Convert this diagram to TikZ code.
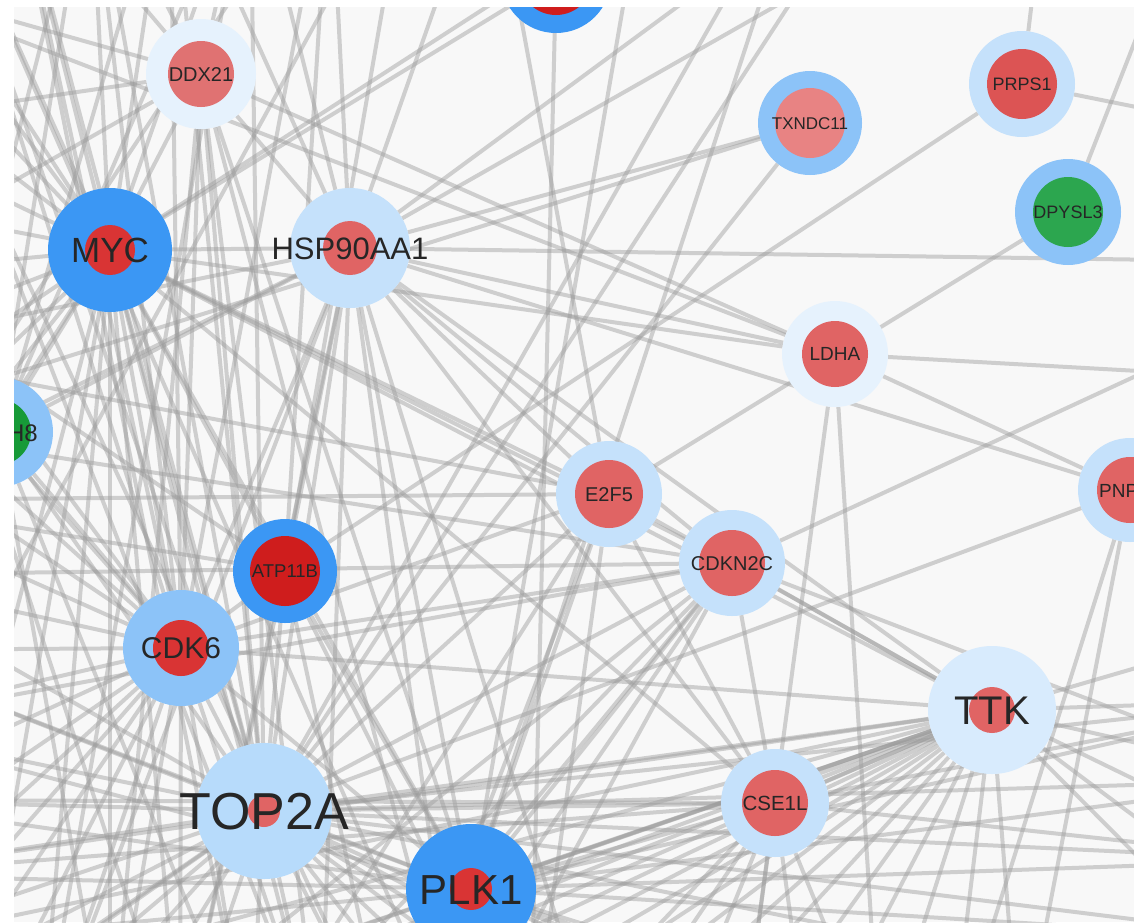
\documentclass[tikz,border=0pt]{standalone}
\usepackage{fontspec}
\newfontfamily\genefont{Liberation Sans}
\pgfdeclarelayer{bg}
\pgfdeclarelayer{edges}
\pgfsetlayers{bg,edges,main}

\definecolor{canvas}{HTML}{F8F8F8}
\definecolor{edgegray}{HTML}{9C9C9C}
\definecolor{labelcol}{HTML}{262626}
\definecolor{ringA}{HTML}{3B97F4}
\definecolor{ringB}{HTML}{8CC3F8}
\definecolor{ringC}{HTML}{C5E1FB}
\definecolor{ringT}{HTML}{B7DBFB}
\definecolor{ringD}{HTML}{E6F2FD}
\definecolor{ringE}{HTML}{D8EBFD}
\definecolor{coreA}{HTML}{D93434}
\definecolor{coreD}{HTML}{CF1D1D}
\definecolor{coreB}{HTML}{E06464}
\definecolor{coreP}{HTML}{E88383}
\definecolor{coreR}{HTML}{DC5454}
\definecolor{coreL}{HTML}{E07272}
\definecolor{coreG}{HTML}{2CA64F}
\definecolor{coreH}{HTML}{179A38}

\tikzset{
  edge/.style={draw=edgegray, line width=4pt, opacity=0.45},
  ring/.style={circle, inner sep=0pt, outer sep=0pt},
  lbl/.style={text=labelcol, inner sep=0pt, anchor=base},
}

% name, x, y, ring radius, ring colour, core radius, core colour, font size, label
\newcommand\gene[9]{%
  \node[ring, fill=#5, minimum size={2*#4pt}] (#1) at (#2,#3) {};
  \fill[#7] (#1.center) circle[radius=#6pt];
  \node[lbl, font={\genefont\fontsize{#8}{#8}\selectfont}] at (#2,{#3+0.36*#8}) {#9};
}

\begin{document}
\begin{tikzpicture}[x=1pt,y=-1pt]
\useasboundingbox (0,0) rectangle (1134,922);
\begin{pgfonlayer}{bg}
  \fill[white] (0,0) rectangle (1134,922);
  \fill[canvas] (14,7) rectangle (1134,922);
\end{pgfonlayer}

% partner genes lying outside the frame
\foreach \i in {0,...,20} \coordinate (b\i) at ({-100+70*\i},1060);
\foreach \i in {0,...,16} \coordinate (l\i) at (-150,{-100+75*\i});
\foreach \i in {0,...,18} \coordinate (t\i) at ({-150+80*\i},-150);
\foreach \i in {0,...,15} \coordinate (r\i) at (1300,{-100+80*\i});
\coordinate (hR) at (1300,262);

% genes
\begin{scope}
  \clip (14,7) rectangle (1134,922);
  \gene{topnode}{556}{-22}{55}{ringA}{37}{coreD}{20}{}
  \gene{DDX21}{201}{74}{55}{ringD}{33}{coreL}{20}{DDX21}
  \gene{MYC}{110}{250}{62}{ringA}{25}{coreA}{35}{MYC}
  \gene{HSP90AA1}{350}{248}{60}{ringC}{27}{coreB}{31}{HSP90AA1}
  \gene{TXNDC11}{810}{123}{52}{ringB}{35}{coreP}{17}{TXNDC11}
  \gene{PRPS1}{1022}{84}{53}{ringC}{35}{coreR}{18}{PRPS1}
  \gene{DPYSL3}{1068}{212}{53}{ringB}{35}{coreG}{18}{DPYSL3}
  \gene{LDHA}{835}{354}{53}{ringD}{33}{coreB}{19}{LDHA}
  \gene{H8node}{-2}{432}{55}{ringB}{33}{coreH}{24}{}
  \node[lbl, anchor=base east, font={\genefont\fontsize{24}{24}\selectfont}] at (38,441) {H8};
  \gene{E2F5}{609}{494}{53}{ringC}{34}{coreB}{20}{E2F5}
  \gene{CDKN2C}{732}{563}{53}{ringC}{33}{coreB}{20}{CDKN2C}
  \gene{PNP}{1130}{490}{52}{ringC}{33}{coreB}{19}{}
  \node[lbl, anchor=base west, font={\genefont\fontsize{19}{19}\selectfont}] at (1099,497) {PNP};
  \gene{ATP11B}{285}{571}{52}{ringA}{35}{coreD}{18.5}{ATP11B}
  \gene{CDK6}{181}{648}{58}{ringB}{28}{coreA}{30}{CDK6}
  \gene{TOP2A}{264}{811}{68}{ringT}{16}{coreB}{52}{TOP2A}
  \gene{PLK1}{471}{889}{65}{ringA}{21}{coreA}{42}{PLK1}
  \gene{CSE1L}{775}{803}{54}{ringC}{33}{coreB}{20.5}{CSE1L}
  \gene{TTK}{992}{710}{64}{ringE}{23}{coreB}{40}{TTK}
\end{scope}

% interactions
\begin{pgfonlayer}{edges}
\begin{scope}
  \clip (14,7) rectangle (1134,922);
  \foreach \a/\b in {
    MYC/DDX21, MYC/HSP90AA1, MYC/CDK6, MYC/TOP2A, MYC/PLK1, MYC/ATP11B,
    MYC/E2F5, MYC/CDKN2C, MYC/LDHA, MYC/TTK, MYC/CSE1L, MYC/H8node, MYC/topnode,
    HSP90AA1/DDX21, HSP90AA1/TXNDC11, HSP90AA1/LDHA, HSP90AA1/PNP, HSP90AA1/CDK6,
    HSP90AA1/TOP2A, HSP90AA1/PLK1, HSP90AA1/TTK, HSP90AA1/CSE1L, HSP90AA1/E2F5,
    HSP90AA1/CDKN2C, HSP90AA1/ATP11B, HSP90AA1/H8node,
    DDX21/LDHA, DDX21/CDK6, DDX21/TOP2A, DDX21/PLK1,
    TOP2A/PLK1, TOP2A/TTK, TOP2A/CSE1L, TOP2A/CDK6, TOP2A/E2F5, TOP2A/CDKN2C,
    TOP2A/ATP11B, TOP2A/PNP, TOP2A/TXNDC11, TOP2A/H8node,
    PLK1/TTK, PLK1/CSE1L, PLK1/CDK6, PLK1/E2F5, PLK1/CDKN2C, PLK1/ATP11B,
    TTK/CSE1L, TTK/CDK6, TTK/CDKN2C, TTK/E2F5,
    CDK6/E2F5, CDK6/CDKN2C, CDK6/H8node, CDK6/ATP11B,
    PRPS1/ATP11B, DPYSL3/E2F5, LDHA/PNP, CSE1L/CDKN2C, CSE1L/E2F5,
    l1/LDHA, topnode/b9, HSP90AA1/hR,
    t0/b6, t1/b8, t2/b5, l0/b7, t3/l12, t5/b2, t6/l9, t7/l13, l2/b4, t4/l14}
    \draw[edge] (\a) -- (\b);
  % hub fans towards partners outside the frame
  \foreach \t in {l0,l1,l2,l3,l4,l5,l6,l7,l8,l9,l10,t0,t1,t2,t3,t4,t5,t11,b0,b1,b2,b3,b4,b6}
    \draw[edge] (MYC) -- (\t);
  \foreach \t in {l4,l5,l6,l7,l8,l9,l10,l11,l12,l13,l14,l15,b0,b1,b2,b3,b4,b5,b6,t1,t2,t3,t4,t6}
    \draw[edge] (CDK6) -- (\t);
  \foreach \t in {l9,l10,l11,l12,l13,l14,l15,l16,b0,b1,b2,b3,b4,b5,b6,b7,b8,b9,b10,b11,b12,b13,
                  r10,r11,r12,r13,r14,t1,t2,t3,t4,t5,t12,t13}
    \draw[edge] (TOP2A) -- (\t);
  \foreach \t in {b5,b6,b7,b8,b9,b10,b11,b12,b13,b14,b15,b16,r10,r11,r12,r13,l10,l11,l12,l13,l14,t10,t12}
    \draw[edge] (PLK1) -- (\t);
  \foreach \t in {b1,b2,b3,b4,b5,b6,b7,b8,b9,b10,b11,b12,b13,b14,b15,b16,l13,l14,l15,l16,r9,r10,r11,r12,r13,r14}
    \draw[edge] (TTK) -- (\t);
  \foreach \t in {t4,t5,t6,t8,t13,t15,b2,b4,b6,b8,b10,l6,l8}
    \draw[edge] (HSP90AA1) -- (\t);
  \foreach \t in {t2,t3,t5,l1,l3,l5,b3,b6,b8}
    \draw[edge] (DDX21) -- (\t);
  \foreach \t in {t6,t7,l5,l8,b4,b7,b9}
    \draw[edge] (ATP11B) -- (\t);
  \foreach \t in {l6,l8,b5,b7,b9,t8}
    \draw[edge] (E2F5) -- (\t);
  \foreach \t in {l7,l9,l11,b3,b5,b6,b7,b8,r5,r11}
    \draw[edge] (CDKN2C) -- (\t);
  \foreach \t in {b9,b10,b11,b12,b13,b14,l12,l13,r10,r12}
    \draw[edge] (CSE1L) -- (\t);
  \foreach \t in {r6,b12,b14}
    \draw[edge] (LDHA) -- (\t);
  \foreach \t in {b15,b16,r4,r7}
    \draw[edge] (PNP) -- (\t);
  \foreach \t in {t15,r3}
    \draw[edge] (PRPS1) -- (\t);
  \draw[edge] (DPYSL3) -- (t17);
  \draw[edge] (TXNDC11) -- (l7);
  \foreach \t in {b3,b5,t3,t5}
    \draw[edge] (H8node) -- (\t);
\end{scope}
\end{pgfonlayer}
\end{tikzpicture}
\end{document}
